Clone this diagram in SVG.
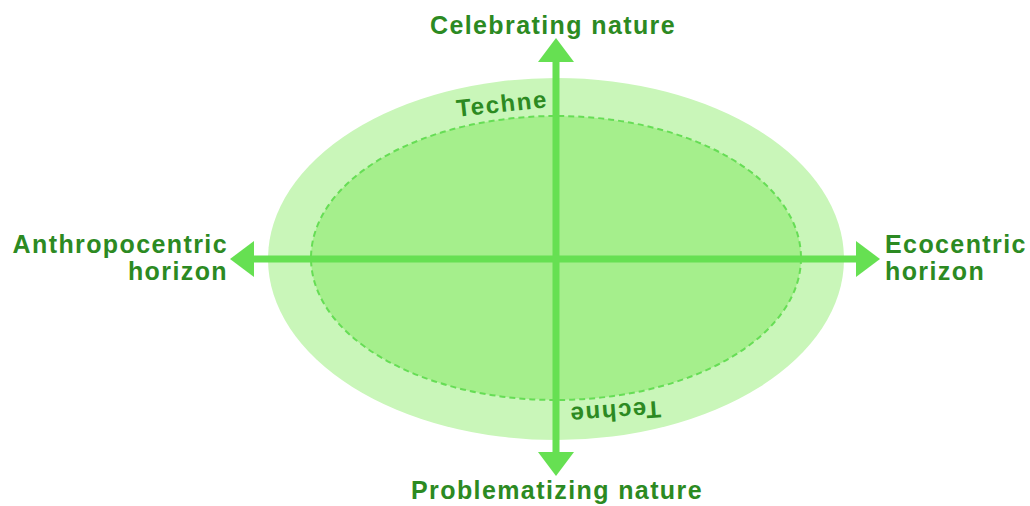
<svg xmlns="http://www.w3.org/2000/svg" width="1030" height="506" viewBox="0 0 1030 506">
<style>
.lbl{font-family:"Liberation Sans",Arial,sans-serif;font-weight:bold;font-size:25px;letter-spacing:1.4px;fill:#2c8a22}
.tech{font-family:"Liberation Sans",Arial,sans-serif;font-weight:bold;font-size:24px;letter-spacing:1.6px;fill:#2c8a22}
.ax{stroke:#66e052;stroke-width:7;fill:none}
</style>
<defs>
<marker id="ah" markerUnits="userSpaceOnUse" markerWidth="36" markerHeight="36" refX="0" refY="18" orient="auto" viewBox="0 0 24 36">
<path d="M0,0 L24,18 L0,36 Z" fill="#66e052"/>
</marker>
</defs>
<rect width="1030" height="506" fill="#ffffff"/>
<g id="outer">
<ellipse cx="556" cy="259" rx="288" ry="181" fill="#c9f6b9"/>
</g>
<g id="inner">
<ellipse cx="556" cy="258" rx="245" ry="142" fill="#a5ef8c" stroke="#66dd55" stroke-width="2" stroke-dasharray="6,4"/>
</g>
<g id="connectors">
<line class="ax" x1="556" y1="259" x2="556" y2="62" marker-end="url(#ah)"/>
<line class="ax" x1="556" y1="259" x2="556" y2="452" marker-end="url(#ah)"/>
<line class="ax" x1="556" y1="259" x2="254" y2="259" marker-end="url(#ah)"/>
<line class="ax" x1="556" y1="259" x2="856" y2="259" marker-end="url(#ah)"/>
</g>
<g id="celebrating"><text class="lbl" x="553" y="34" text-anchor="middle">Celebrating nature</text></g>
<g id="problematizing"><text class="lbl" x="557" y="499" text-anchor="middle">Problematizing nature</text></g>
<g id="anthropocentric"><text class="lbl" text-anchor="end"><tspan x="228" y="253">Anthropocentric</tspan><tspan x="228" y="280">horizon</tspan></text></g>
<g id="ecocentric"><text class="lbl"><tspan x="885" y="253">Ecocentric</tspan><tspan x="885" y="280">horizon</tspan></text></g>
<g id="techne-top"><text class="tech" x="502" y="112" text-anchor="middle" transform="rotate(-6 502 104)">Techne</text></g>
<g id="techne-bottom"><text class="tech" x="615" y="420" text-anchor="middle" transform="rotate(176 615 412)">Techne</text></g>
</svg>
